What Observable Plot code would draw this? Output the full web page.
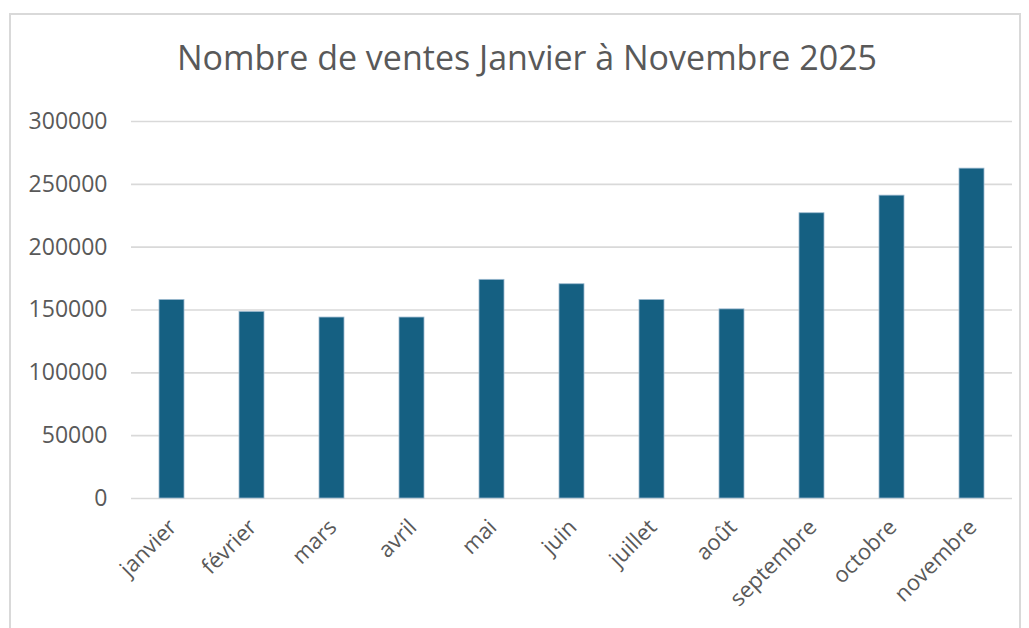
<!DOCTYPE html>
<html><head><meta charset="utf-8">
<script src="https://cdn.jsdelivr.net/npm/d3@7"></script>
<script src="https://cdn.jsdelivr.net/npm/@observablehq/plot@0.6"></script>
<style>
body{margin:0;background:#fff;overflow:hidden}
#wrap{position:relative;width:1029px;height:628px;}
#frame{position:absolute;left:9px;top:13px;width:1012px;height:640px;border:2px solid #d9d9d9;box-sizing:border-box;pointer-events:none}
#title{position:absolute;left:0;width:1054px;top:37px;text-align:center;font-family:"Open Sans";font-size:34px;color:#595959;line-height:1.2}
#chart{position:absolute;left:0;top:0}
</style></head>
<body>
<div id="wrap">
<div id="frame"></div>
<div id="title">Nombre de ventes Janvier à Novembre 2025</div>
<div id="chart"></div>
</div>
<script>
const months = ["janvier","février","mars","avril","mai","juin","juillet","août","septembre","octobre","novembre"];
const ventes = [158000,148500,144000,144000,174000,170500,158000,150500,227000,241000,262500];
const yTicks = [0,50000,100000,150000,200000,250000,300000];

const data = months.map((m,i)=>({mois:m, ventes:ventes[i]}));
const txt = "#595959";
const chart = Plot.plot({
  width: 1029,
  height: 628,
  marginLeft: 131,
  marginRight: 17,
  marginTop: 121,
  marginBottom: 130,
  style: {fontFamily: "Open Sans", fontSize: "22px", color: txt, background: "transparent"},
  x: {domain: months, paddingInner: 0.69, paddingOuter: 0.345, label: null},
  y: {domain: [0, 300000], label: null},
  marks: [
    Plot.ruleY(yTicks, {stroke: "#d9d9d9", strokeWidth: 1.6}),
    Plot.barY(data, {x: "mois", y: "ventes", fill: "#156082", stroke: "#9dbad0", strokeWidth: 0.8}),
    Plot.axisY({ticks: yTicks, tickSize: 0, tickPadding: 24, tickFormat: d3.format("d"), fill: txt, fontSize: 23, label: null}),
    Plot.axisX({tickRotate: -45, tickSize: 0, tickPadding: 20, dx: 1, dy: 5, fill: txt, fontSize: 22, label: null})
  ]
});
document.getElementById("chart").appendChild(chart);
</script>
</body></html>
